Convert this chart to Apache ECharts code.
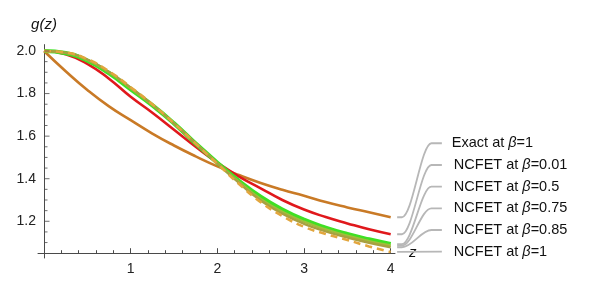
<!DOCTYPE html>
<html><head><meta charset="utf-8">
<script src="https://cdn.jsdelivr.net/npm/echarts@6/dist/echarts.min.js"></script>
<style>html,body{margin:0;padding:0;background:#fff}#c{width:615px;height:286px}</style>
</head><body><div id="c"></div>
<script>
// --- data ---
const zValues = [0,0.25,0.5,0.75,1,1.25,1.5,1.75,2,2.25,2.5,2.75,3,3.25,3.5,3.75,4];
const exactB1   = [2.0,1.905,1.817,1.740,1.675,1.612,1.556,1.505,1.458,1.417,1.380,1.348,1.320,1.290,1.265,1.242,1.219];
const ncfetB001 = [2.0,1.985,1.940,1.870,1.785,1.710,1.630,1.550,1.475,1.410,1.355,1.300,1.255,1.220,1.190,1.162,1.139];
const ncfetB05  = [2.0,1.990,1.955,1.895,1.820,1.745,1.660,1.565,1.475,1.390,1.315,1.255,1.207,1.170,1.140,1.115,1.093];
const ncfetB075 = [2.0,1.991,1.958,1.900,1.825,1.747,1.660,1.565,1.473,1.385,1.305,1.245,1.198,1.162,1.132,1.107,1.086];
const ncfetB085 = [2.0,1.992,1.960,1.902,1.828,1.748,1.660,1.565,1.472,1.380,1.298,1.236,1.188,1.153,1.124,1.099,1.078];
const ncfetB1   = [2.0,1.993,1.962,1.905,1.830,1.750,1.660,1.565,1.470,1.375,1.290,1.225,1.174,1.140,1.112,1.082,1.056];
const seriesNames = ['Exact at β=1','NCFET at β=0.01','NCFET at β=0.5','NCFET at β=0.75','NCFET at β=0.85','NCFET at β=1'];
const xTickLabels = [1,2,3,4];
const yTickLabels = [1.2,1.4,1.6,1.8,2.0];
const yMinorTicks = [1.1,1.15,1.25,1.3,1.35,1.45,1.5,1.55,1.65,1.7,1.75,1.85,1.9,1.95];
// callout label anchor values (on the g axis) for each label row
const calloutLevels = [1.5665,1.4645,1.3626,1.261,1.159,1.057];

// --- style ---
const FONT = "'Liberation Sans', Arial, sans-serif";
const AX = '#4a4a4a';
const styles = [
  {color:'#c97a26', width:2.6, type:'solid'},
  {color:'#e0181c', width:2.6, type:'solid'},
  {color:'#3fe024', width:4.2, type:'solid'},
  {color:'#9fbf3a', width:2.4, type:'solid'},
  {color:'#a8a040', width:2.4, type:'solid'},
  {color:'#e2a63e', width:2.6, type:[7,5]}
];
const allData = [exactB1,ncfetB001,ncfetB05,ncfetB075,ncfetB085,ncfetB1];

const chart = echarts.init(document.getElementById('c'), null, {renderer:'canvas'});

const series = [];
allData.forEach((vals,i)=>{
  series.push({
    type:'line', name:seriesNames[i], xAxisIndex:0, yAxisIndex:0, clip:false,
    data: zValues.map((z,k)=>[z,vals[k]]),
    smooth:true, showSymbol:false, symbol:'none', silent:true,
    lineStyle:{color:styles[i].color,width:styles[i].width,type:styles[i].type,cap:'butt'},
    z: 3
  });
});
// callout leader lines + labels (drawn in a wider grid with the same scale)
allData.forEach((vals,i)=>{
  const yEnd = vals[vals.length-1];
  const yLab = calloutLevels[i];
  const pts = (i===allData.length-1)
    ? [[4.074,yEnd],[4.59,yLab]]
    : [[4.074,yEnd],[4.13,yEnd],[4.47,yLab],[4.59,yLab]];
  const parts = seriesNames[i].split('β');
  series.push({
    type:'line', xAxisIndex:5, yAxisIndex:5, clip:false, silent:true,
    data: pts, smooth:0.35, smoothMonotone:'x', showSymbol:false, symbol:'none',
    lineStyle:{color:'#b7b7b7', width:1.8},
    endLabel:{show:true, distance: i===0 ? 10 : 12,
      formatter: ()=> parts[0] + '{b|β}' + parts[1],
      color:'#111', fontSize:14.5, fontFamily:FONT,
      rich:{b:{fontStyle:'italic', fontSize:14.5, fontFamily:FONT, color:'#111'}}},
    z: 2
  });
});
// y-axis tick marks (inside), placed through the data scale
series.push({
  type:'scatter', xAxisIndex:0, yAxisIndex:0, clip:false, silent:true,
  data: yTickLabels.map(v=>[0,v]), symbol:'rect', symbolSize:[5,1], symbolOffset:[3,0],
  itemStyle:{color:AX}, z:4
});
series.push({
  type:'scatter', xAxisIndex:0, yAxisIndex:0, clip:false, silent:true,
  data: yMinorTicks.map(v=>[0,v]), symbol:'rect', symbolSize:[3,1], symbolOffset:[2,0],
  itemStyle:{color:AX}, z:4
});

const hiddenX = (g,min,max)=>({type:'value', gridIndex:g, min:min, max:max, show:false});
const hiddenY = (g,min,max)=>({type:'value', gridIndex:g, min:min, max:max, show:false});

chart.setOption({
  animation:false,
  backgroundColor:'#fff',
  grid:[
    {left:44, right:224.3, top:51, bottom:32.8},      // 0 data
    {left:38, right:220, top:51, bottom:32.8},        // 1 x axis line
    {left:44, right:224.3, top:44.6, bottom:28},      // 2 y axis line
    {left:44, right:224.3, top:51, bottom:64.7},      // 3 y labels 1.2..2.0
    {left:44, right:224.3, top:61.6, bottom:32.8},    // 4 spare
    {left:44, right:163.6, top:51, bottom:32.8}       // 5 callouts, x 0..4.7
  ],
  xAxis:[
    {type:'value', gridIndex:0, min:0, max:4, interval:1,
     axisLine:{show:false},
     axisTick:{show:true, inside:true, length:5, lineStyle:{color:AX, width:1}},
     minorTick:{show:true, splitNumber:5, length:3, lineStyle:{color:AX, width:1}},
     axisLabel:{show:true, margin:9, fontSize:14, fontFamily:FONT, color:'#222',
       formatter:v=> xTickLabels.indexOf(v)>=0 ? String(v) : ''},
     splitLine:{show:false}, minorSplitLine:{show:false}},
    {type:'value', gridIndex:1, min:0, max:1,
     name:'z', nameLocation:'end', nameGap:14,
     nameTextStyle:{fontStyle:'italic', fontSize:15, fontFamily:FONT, color:'#111', verticalAlign:'middle'},
     axisLine:{show:true, lineStyle:{color:AX, width:1}},
     axisTick:{show:false}, axisLabel:{show:false}, splitLine:{show:false}},
    hiddenX(2,0,1), hiddenX(3,0,1), hiddenX(4,0,1), hiddenX(5,0,4.7)
  ],
  yAxis:[
    hiddenY(0,1.05,2.0),
    hiddenY(1,0,1),
    {type:'value', gridIndex:2, min:0, max:1,
     name:'g(z)', nameLocation:'end', nameGap:12,
     nameTextStyle:{fontStyle:'italic', fontSize:15, fontFamily:FONT, color:'#111', align:'center'},
     axisLine:{show:true, lineStyle:{color:AX, width:1}},
     axisTick:{show:false}, axisLabel:{show:false}, splitLine:{show:false}},
    {type:'value', gridIndex:3, min:1.2, max:2.0, interval:0.2,
     axisLine:{show:false}, axisTick:{show:false},
     axisLabel:{show:true, margin:8, fontSize:14, fontFamily:FONT, color:'#222', formatter:v=>v.toFixed(1)},
     splitLine:{show:false}},
    hiddenY(4,0,1),
    hiddenY(5,1.05,2.0)
  ],
  series: series
});
</script></body></html>
